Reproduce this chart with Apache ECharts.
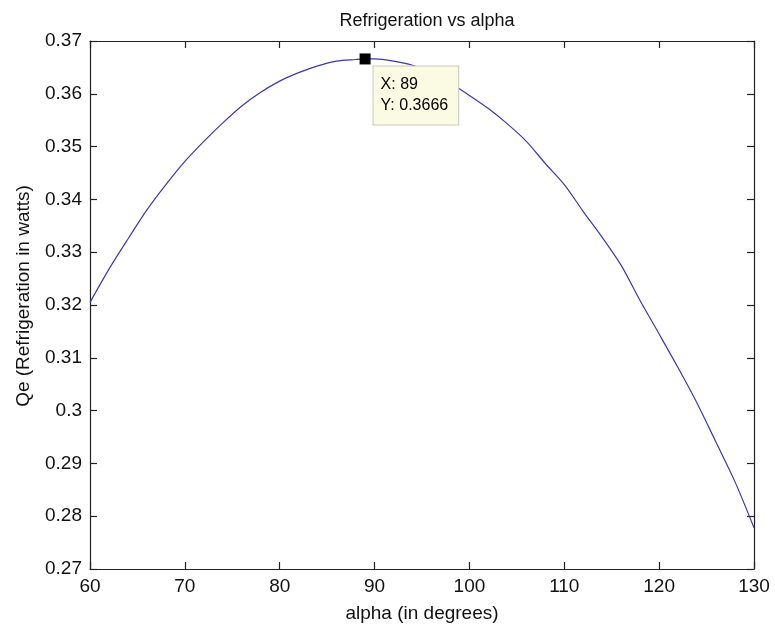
<!DOCTYPE html>
<html>
<head>
<meta charset="utf-8">
<script src="https://cdn.jsdelivr.net/npm/echarts@6/dist/echarts.min.js"></script>
<style>html,body{margin:0;padding:0;background:#fff;}#c{width:775px;height:633px;}</style>
</head>
<body>
<div id="c"></div>
<script>
// Data
const alpha = [60,62,64,66,68,70,72,74,76,78,80,82,84,86,88,89,90,92,94,96,98,100,102,104,106,108,110,112,114,116,118,120,122,124,126,128,130];
const qe = [0.3205,0.3268,0.3325,0.3380,0.3428,0.3472,0.3510,0.3545,0.3577,0.3603,0.3624,0.3640,0.3653,0.3662,0.3665,0.3666,0.3666,0.3662,0.3654,0.3640,0.3620,0.3597,0.3572,0.3543,0.3510,0.3468,0.3428,0.3377,0.3328,0.3275,0.3208,0.3145,0.3081,0.3014,0.2940,0.2865,0.2778];
const tipX = 89;
const tipY = 0.3666;
const titleText = 'Refrigeration vs alpha';
const xName = 'alpha (in degrees)';
const yName = 'Qe (Refrigeration in watts)';

const font = 'Liberation Sans, Arial, Helvetica, sans-serif';
const axisCol = '#222';
const chart = echarts.init(document.getElementById('c'), null, {renderer: 'canvas'});
const grid = {left: 90, right: 21, top: 41, bottom: 64, containLabel: false};
const baseX = {type: 'value', min: 60, max: 130, interval: 10};
const baseY = {type: 'value', min: 0.27, max: 0.37, interval: 0.01};
const lineStyle = {color: axisCol, width: 1.2};
chart.setOption({
  backgroundColor: '#fff',
  animation: false,
  title: {text: titleText, left: 422, textAlign: 'center', top: 7,
    textStyle: {fontFamily: font, fontSize: 18, fontWeight: 'normal', color: '#111'}},
  grid: grid,
  xAxis: [
    Object.assign({}, baseX, {position: 'bottom', name: xName, nameLocation: 'middle', nameGap: 35,
      nameTextStyle: {fontFamily: font, fontSize: 19, color: '#111'},
      axisLine: {show: true, onZero: false, lineStyle: lineStyle},
      axisTick: {show: true, inside: true, length: 7, lineStyle: lineStyle},
      axisLabel: {fontFamily: font, fontSize: 19, color: '#111', margin: 8},
      splitLine: {show: false}}),
    Object.assign({}, baseX, {position: 'top',
      axisLine: {show: true, onZero: false, lineStyle: lineStyle},
      axisTick: {show: true, inside: true, length: 7, lineStyle: lineStyle},
      axisLabel: {show: false}, splitLine: {show: false}})
  ],
  yAxis: [
    Object.assign({}, baseY, {position: 'left', name: yName, nameLocation: 'middle', nameGap: 57,
      nameTextStyle: {fontFamily: font, fontSize: 19, color: '#111', padding: [0, 0, 0, 18]},
      axisLine: {show: true, onZero: false, lineStyle: lineStyle},
      axisTick: {show: true, inside: true, length: 7, lineStyle: lineStyle},
      axisLabel: {fontFamily: font, fontSize: 19, color: '#111', margin: 8},
      splitLine: {show: false}}),
    Object.assign({}, baseY, {position: 'right',
      axisLine: {show: true, onZero: false, lineStyle: lineStyle},
      axisTick: {show: true, inside: true, length: 7, lineStyle: lineStyle},
      axisLabel: {show: false}, splitLine: {show: false}})
  ],
  series: [
    {type: 'line', xAxisIndex: 0, yAxisIndex: 0, data: alpha.map((a, i) => [a, qe[i]]),
      showSymbol: false, smooth: 0.3, lineStyle: {color: '#3a3aa8', width: 1.2}, z: 2},
    {type: 'scatter', xAxisIndex: 0, yAxisIndex: 0, data: [[tipX, tipY]],
      symbol: 'rect', symbolSize: 11, itemStyle: {color: '#000', opacity: 1}, z: 5,
      label: {show: true, position: [14, 13], align: 'left', verticalAlign: 'top',
        formatter: 'X: ' + tipX + '\nY: ' + tipY.toFixed(4),
        fontFamily: font, fontSize: 16, color: '#000', lineHeight: 21,
        backgroundColor: '#fbfbe3', borderColor: '#c8c8b8', borderWidth: 1,
        padding: [8, 10, 8, 7]}}
  ]
});
</script>
</body>
</html>
